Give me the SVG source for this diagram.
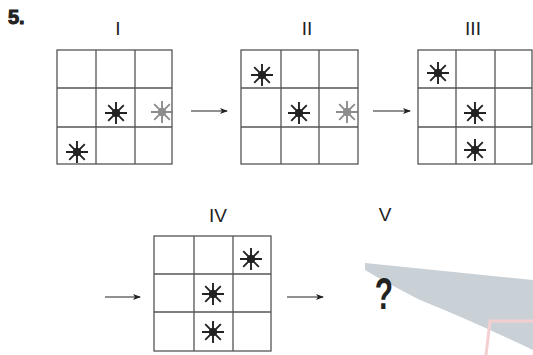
<svg xmlns="http://www.w3.org/2000/svg" width="533" height="355" viewBox="0 0 533 355">
<defs>
<style>
.g{fill:#fff;stroke:#555;stroke-width:1.3}
.l{stroke:#555;stroke-width:1.3}
.t{font-family:"Liberation Sans",Arial,sans-serif;font-size:19px;fill:#222;text-anchor:middle}
</style>
<marker id="ah" markerWidth="8" markerHeight="6" refX="7" refY="3" orient="auto" markerUnits="userSpaceOnUse">
<path d="M0,0 L8,3 L0,6 L2,3 Z" fill="#222"/>
</marker>
<g id="star">
<path d="M-11,0 H11 M0,-11 V11 M-7.8,-7.8 L7.8,7.8 M-7.8,7.8 L7.8,-7.8" stroke-width="1.9"/>
<circle r="3.8"/>
</g>
</defs>
<rect width="533" height="355" fill="#fff"/>
<path d="M365,263 L533,280 L533,350 Q470,320 420,300 Q385,282 365,270 Z" fill="#c9d0d6"/>
<path d="M533,321 L490,321 L486,355" fill="none" stroke="#f4cfd1" stroke-width="3"/>
<text x="8" y="24" style="font-family:'Liberation Sans',Arial,sans-serif;font-size:20px;font-weight:bold;fill:#222;stroke:#222;stroke-width:1">5.</text>
<g id="grid1">
<text class="t" x="118" y="35">I</text>
<rect class="g" x="57" y="50" width="115" height="114"/>
<path class="l" d="M96,50V164M135,50V164M57,88H172M57,127H172"/>
<use href="#star" x="116" y="113" fill="#222" stroke="#222"/>
<use href="#star" x="162" y="112" fill="#7a7a7a" stroke="#7a7a7a" opacity="0.85"/>
<use href="#star" x="77" y="152" fill="#222" stroke="#222"/>
</g>
<g id="grid2">
<text class="t" x="307" y="35">II</text>
<rect class="g" x="241" y="50" width="117" height="114"/>
<path class="l" d="M281,50V164M319,50V164M241,88H358M241,127H358"/>
<use href="#star" x="262" y="75" fill="#222" stroke="#222"/>
<use href="#star" x="299" y="113" fill="#222" stroke="#222"/>
<use href="#star" x="347" y="112" fill="#7a7a7a" stroke="#7a7a7a" opacity="0.85"/>
</g>
<g id="grid3">
<text class="t" x="473" y="35">III</text>
<rect class="g" x="418" y="50" width="114" height="114"/>
<path class="l" d="M456,50V164M495,50V164M418,88H532M418,127H532"/>
<use href="#star" x="438" y="73" fill="#222" stroke="#222"/>
<use href="#star" x="475" y="113" fill="#222" stroke="#222"/>
<use href="#star" x="475" y="150" fill="#222" stroke="#222"/>
</g>
<g id="grid4">
<text class="t" x="218" y="222">IV</text>
<rect class="g" x="154" y="236" width="117" height="115"/>
<path class="l" d="M194,236V351M233,236V351M154,274H271M154,312H271"/>
<use href="#star" x="251" y="259" fill="#222" stroke="#222"/>
<use href="#star" x="213" y="294" fill="#222" stroke="#222"/>
<use href="#star" x="213" y="332" fill="#222" stroke="#222"/>
</g>
<g id="grid5">
<text class="t" x="385" y="221">V</text>
<text x="384" y="309" transform="translate(384,0) scale(0.68,1) translate(-384,0)" style="font-family:'Liberation Sans',Arial,sans-serif;font-size:44px;font-weight:bold;fill:#222;text-anchor:middle">?</text>
</g>
<g id="connectors" stroke="#222" stroke-width="1.2" marker-end="url(#ah)">
<line x1="191" y1="111" x2="227" y2="111"/>
<line x1="373" y1="111" x2="410" y2="111"/>
<line x1="105" y1="297" x2="140" y2="297"/>
<line x1="287" y1="297" x2="323" y2="297"/>
</g>
</svg>
